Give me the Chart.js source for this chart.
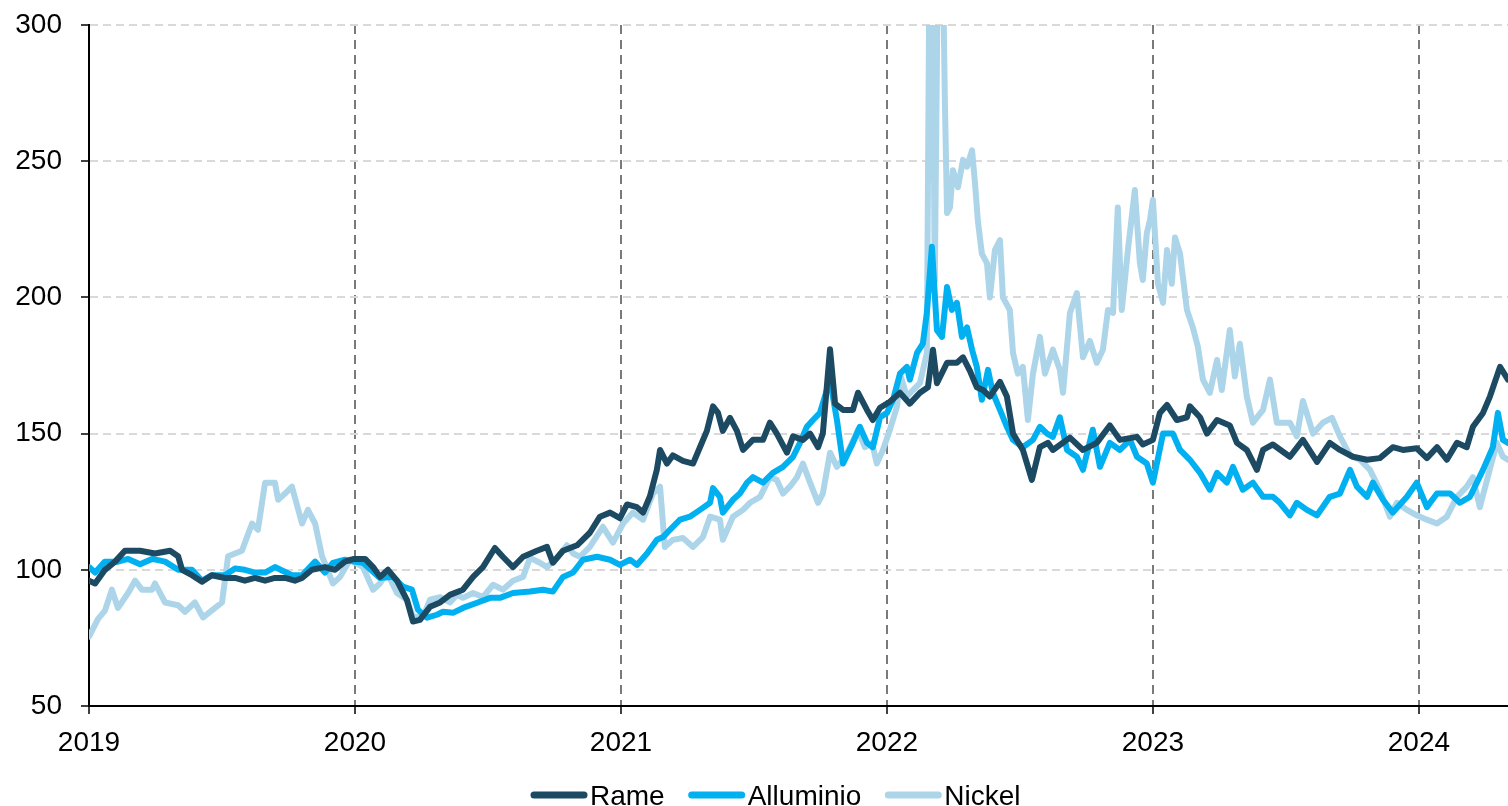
<!DOCTYPE html>
<html lang="it">
<head>
<meta charset="utf-8">
<title>Rame, Alluminio, Nickel</title>
<script src="https://cdn.jsdelivr.net/npm/chart.js@4.4.1/dist/chart.umd.min.js"></script>
<style>
  html, body { margin: 0; padding: 0; background: #fff; }
  #wrap { width: 1508px; height: 806px; }
</style>
</head>
<body>
<div id="wrap"><canvas id="metals" width="1508" height="806"></canvas></div>
<script>
// dates as fractional years, values are index levels
const yearTicks = [2019, 2020, 2021, 2022, 2023, 2024];

const rameT = [
  2019.000, 2019.023, 2019.060, 2019.098, 2019.135, 2019.192, 2019.248, 2019.305, 2019.335, 2019.350, 2019.387, 2019.425, 2019.462, 2019.511,
  2019.549, 2019.586, 2019.624, 2019.662, 2019.699, 2019.737, 2019.774, 2019.801, 2019.838, 2019.887, 2019.925, 2019.962, 2019.996,
  2020.038, 2020.068, 2020.094, 2020.124, 2020.158, 2020.195, 2020.218, 2020.244, 2020.282, 2020.320, 2020.357, 2020.406, 2020.444, 2020.481,
  2020.526, 2020.556, 2020.594, 2020.632, 2020.684, 2020.722, 2020.744, 2020.782, 2020.835, 2020.883, 2020.921, 2020.959, 2020.996,
  2021.023, 2021.060, 2021.083, 2021.109, 2021.135, 2021.147, 2021.173, 2021.195, 2021.233, 2021.271, 2021.297, 2021.323, 2021.346, 2021.365,
  2021.383, 2021.410, 2021.436, 2021.459, 2021.496, 2021.534, 2021.560, 2021.586, 2021.624, 2021.647, 2021.684, 2021.711, 2021.741, 2021.759,
  2021.786, 2021.805, 2021.835, 2021.872, 2021.891, 2021.925, 2021.947, 2021.974,
  2022.011, 2022.049, 2022.086, 2022.124, 2022.154, 2022.173, 2022.188, 2022.226, 2022.263, 2022.286, 2022.312, 2022.338, 2022.361, 2022.387,
  2022.425, 2022.451, 2022.474, 2022.511, 2022.545, 2022.575, 2022.605, 2022.624, 2022.688, 2022.737, 2022.789, 2022.838, 2022.876, 2022.940, 2022.962,
  2023.000, 2023.026, 2023.053, 2023.090, 2023.128, 2023.139, 2023.177, 2023.203, 2023.241, 2023.289, 2023.316, 2023.353, 2023.391, 2023.414,
  2023.451, 2023.515, 2023.564, 2023.617, 2023.665, 2023.703, 2023.752, 2023.805, 2023.853, 2023.902, 2023.940, 2023.992,
  2024.030, 2024.068, 2024.105, 2024.143, 2024.180, 2024.203, 2024.241, 2024.267, 2024.305, 2024.335
];
const rameV = [
  96, 95, 100, 103, 107, 107, 106, 107, 105, 100, 98, 95.6, 98, 97, 97, 96, 97, 96, 97, 97, 96, 97, 100, 101, 100, 103, 104,
  104, 101, 97.4, 100, 96, 89, 81, 81.6, 86.4, 88, 90.8, 92.7, 97.4, 101, 108, 104.8, 101, 104.8, 107, 108.4, 102.6, 107, 109, 113.6, 119.5, 121, 119,
  124, 123, 121, 127, 136.7, 144, 139, 142, 140, 139, 145, 151, 160, 157.6, 151, 155.8, 151, 144, 147.7, 147.7, 154, 150, 143, 149, 147.7, 150,
  145, 150, 181, 161, 158.7, 158.7, 165, 158.7, 155, 159.5,
  161.7, 165, 161, 165, 167, 180.8, 168.5, 176, 176, 178, 173, 167, 166, 163.6, 169, 163.6, 150, 144, 133, 145, 146.6, 144, 148.5, 144, 146.6,
  153, 147.7, 148.8, 146,
  147.7, 157.6, 160.5, 155, 156, 160, 156, 150, 155, 153, 146.6, 144, 136.7, 144, 146, 141.5, 147.7, 139.6, 146.6, 144, 141.5, 140.4, 141, 145, 144, 144.6,
  141, 145, 140.4, 146.6, 145, 152.5, 157.6, 163.6, 174.5, 169.8
];

const alluT = [
  2019.000, 2019.023, 2019.060, 2019.109, 2019.147, 2019.192, 2019.237, 2019.286, 2019.335, 2019.387, 2019.425, 2019.462, 2019.511, 2019.549,
  2019.586, 2019.624, 2019.662, 2019.699, 2019.763, 2019.801, 2019.850, 2019.887, 2019.917, 2019.962, 2019.996,
  2020.030, 2020.094, 2020.143, 2020.180, 2020.214, 2020.237, 2020.271, 2020.308, 2020.331, 2020.368, 2020.406, 2020.459, 2020.508, 2020.545,
  2020.594, 2020.658, 2020.707, 2020.744, 2020.782, 2020.820, 2020.857, 2020.910, 2020.959, 2020.996,
  2021.034, 2021.060, 2021.098, 2021.135, 2021.158, 2021.184, 2021.222, 2021.259, 2021.297, 2021.335, 2021.346, 2021.372, 2021.383, 2021.421,
  2021.447, 2021.474, 2021.496, 2021.534, 2021.571, 2021.609, 2021.647, 2021.673, 2021.699, 2021.722, 2021.748, 2021.786, 2021.812, 2021.835,
  2021.872, 2021.898, 2021.925, 2021.947, 2021.974,
  2022.000, 2022.023, 2022.049, 2022.075, 2022.086, 2022.113, 2022.135, 2022.150, 2022.169, 2022.188, 2022.207, 2022.226, 2022.244, 2022.263,
  2022.282, 2022.301, 2022.320, 2022.338, 2022.357, 2022.380, 2022.398, 2022.425, 2022.451, 2022.474, 2022.511, 2022.549, 2022.575, 2022.602,
  2022.624, 2022.650, 2022.677, 2022.714, 2022.737, 2022.774, 2022.801, 2022.838, 2022.876, 2022.914, 2022.940, 2022.977,
  2023.000, 2023.038, 2023.075, 2023.102, 2023.139, 2023.177, 2023.214, 2023.241, 2023.278, 2023.301, 2023.338, 2023.376, 2023.414, 2023.451,
  2023.477, 2023.515, 2023.541, 2023.579, 2023.617, 2023.665, 2023.703, 2023.741, 2023.767, 2023.805, 2023.827, 2023.865, 2023.902, 2023.955, 2023.992,
  2024.030, 2024.068, 2024.117, 2024.154, 2024.192, 2024.241, 2024.278, 2024.297, 2024.316, 2024.335
];
const alluV = [
  101, 99, 103, 103, 104, 102, 104, 103, 100, 100, 96, 98, 98, 100.5, 100, 99, 99, 101, 98, 98, 103, 99, 102.5, 103.7, 103,
  102.6, 97, 97.4, 93.8, 92.7, 85.3, 82.4, 83.5, 84.6, 84.2, 86, 87.9, 89.7, 89.7, 91.5, 92, 92.7, 92, 97.4, 99, 103.7, 104.8, 103.7, 101.8,
  103.7, 101.8, 106, 111, 112, 114.7, 118.4, 119.5, 122, 124.6, 130, 126.8, 121, 125.7, 128, 132, 134, 132, 135.6, 137.8, 141.5, 146.6, 152.5,
  155, 157.6, 169.8, 155, 139, 146.6, 152.5, 146.6, 145, 156,
  157.6, 162.4, 172, 174.5, 169.8, 179.6, 183, 194.3, 218.6, 188, 185.5, 203.8, 195.4, 198, 185.5, 189, 180.8, 174.5, 162.4, 173.4, 165, 158.7,
  152.5, 147.7, 145, 147.7, 152.5, 150, 148.8, 156, 144, 141.5, 136.7, 151.4, 137.8, 146.6, 144, 147.7, 141.5, 139,
  132, 150, 150, 144, 140.4, 135.6, 129.4, 135.6, 132, 137.8, 129.4, 132, 126.8, 126.8, 124.6, 120, 124.6, 122, 120, 126.8, 128, 136.7, 130.5,
  126.8, 132, 125.7, 121, 126.8, 132,
  123, 128, 128, 124.6, 126.8, 136.7, 145, 157.6, 147.7, 146.6
];

const nickelT = [
  2019.000, 2019.034, 2019.060, 2019.086, 2019.109, 2019.147, 2019.173, 2019.199, 2019.237, 2019.248, 2019.286, 2019.335, 2019.361, 2019.398,
  2019.429, 2019.474, 2019.500, 2019.523, 2019.575, 2019.613, 2019.635, 2019.662, 2019.699, 2019.711, 2019.737, 2019.763, 2019.801, 2019.823,
  2019.850, 2019.876, 2019.917, 2019.944, 2019.981,
  2020.030, 2020.068, 2020.094, 2020.120, 2020.158, 2020.195, 2020.218, 2020.256, 2020.282, 2020.320, 2020.357, 2020.383, 2020.406, 2020.444,
  2020.481, 2020.519, 2020.556, 2020.594, 2020.632, 2020.658, 2020.695, 2020.722, 2020.759, 2020.797, 2020.820, 2020.846, 2020.883, 2020.932, 2020.970,
  2021.008, 2021.045, 2021.083, 2021.120, 2021.147, 2021.165, 2021.195, 2021.233, 2021.271, 2021.308, 2021.335, 2021.372, 2021.383, 2021.421,
  2021.459, 2021.485, 2021.523, 2021.560, 2021.586, 2021.609, 2021.635, 2021.662, 2021.684, 2021.711, 2021.741, 2021.759, 2021.786, 2021.812,
  2021.835, 2021.861, 2021.891, 2021.917, 2021.944, 2021.962, 2021.985,
  2022.011, 2022.038, 2022.049, 2022.075, 2022.098, 2022.124, 2022.150, 2022.165, 2022.180, 2022.199, 2022.218, 2022.226, 2022.237, 2022.248,
  2022.267, 2022.286, 2022.301, 2022.320, 2022.331, 2022.342, 2022.357, 2022.376, 2022.387, 2022.406, 2022.425, 2022.436, 2022.462, 2022.474,
  2022.492, 2022.511, 2022.530, 2022.549, 2022.575, 2022.594, 2022.624, 2022.650, 2022.662, 2022.688, 2022.714, 2022.737, 2022.763, 2022.789,
  2022.812, 2022.831, 2022.850, 2022.868, 2022.883, 2022.906, 2022.932, 2022.951, 2022.962, 2022.977, 2022.989,
  2023.000, 2023.019, 2023.038, 2023.053, 2023.071, 2023.083, 2023.102, 2023.128, 2023.150, 2023.169, 2023.188, 2023.214, 2023.241, 2023.259,
  2023.289, 2023.308, 2023.327, 2023.353, 2023.376, 2023.414, 2023.440, 2023.466, 2023.515, 2023.541, 2023.564, 2023.602, 2023.639, 2023.673,
  2023.703, 2023.741, 2023.778, 2023.816, 2023.853, 2023.891, 2023.917, 2023.955, 2023.992,
  2024.030, 2024.068, 2024.105, 2024.143, 2024.180, 2024.203, 2024.229, 2024.256, 2024.293, 2024.316, 2024.335
];
const nickelV = [
  75.5, 82, 85, 92.7, 86, 91.5, 96, 92.7, 92.7, 95, 88, 87, 84.6, 88, 82.5, 86, 88, 105, 107, 117, 114.7, 132, 132, 125.7, 128, 130.5, 117, 122,
  117, 105, 95, 97.4, 103.7,
  101, 92.7, 95, 99, 91.5, 89, 82.8, 82.8, 89, 90, 88, 90.8, 89.7, 91.5, 90, 94.5, 92.7, 96, 97.4, 104.4, 102.6, 101, 104.4, 109, 106, 104.8,
  108.4, 115.8, 110,
  117, 121, 118.4, 128, 130.5, 108.4, 111, 111.7, 108.4, 112, 119.5, 118.4, 111, 119.5, 122, 124.6, 126.8, 134, 133, 128, 130.5, 134, 139, 132,
  124.6, 128, 143, 137.8, 140.4, 145, 151.4, 145, 146.6, 139, 144,
  151.4, 160, 172, 163.6, 166, 168.5, 179.6, 400, 206, 400, 271, 231, 233, 246.7, 240.5, 250.5, 248, 254, 242, 228, 216, 212.6, 200, 217.4,
  221, 200, 195.4, 179.6, 172, 174.5, 155, 172, 185.5, 172, 180.8, 173.4, 165, 194.3, 201.6, 178, 184, 176, 180.8, 195.4, 194.3, 233, 195.4,
  217.4, 239.4, 212.6, 206.4, 223.6, 228.4,
  235.8, 205, 198, 217.4, 205, 222, 216, 195.4, 189, 181.9, 169.8, 165, 177, 166, 188, 171, 183, 163.6, 154, 158.7, 169.8, 154, 154, 149, 162,
  150, 154, 155.8, 149, 142, 140.4, 136.7, 129.4, 119.5, 124.6, 122, 120,
  118.4, 117, 119.5, 126.8, 130.5, 134, 123, 133, 146.6, 141.5, 140.4
];

const FONT = '"Liberation Sans", Arial, sans-serif';
const toPoints = (t, v) => t.map((x, i) => ({ x, y: v[i] }));

// legend drawn by hand: thick rounded swatch right next to the label
const bottomLegend = {
  id: 'bottomLegend',
  afterDraw(chart) {
    const ctx = chart.ctx;
    ctx.save();
    ctx.font = `28px ${FONT}`;
    ctx.textBaseline = 'alphabetic';
    let x = 530;
    const y = 795;
    chart.data.datasets.forEach((ds) => {
      ctx.strokeStyle = ds.borderColor;
      ctx.lineWidth = 7;
      ctx.lineCap = 'round';
      ctx.beginPath();
      ctx.moveTo(x + 4, y);
      ctx.lineTo(x + 54, y);
      ctx.stroke();
      ctx.fillStyle = '#000';
      ctx.fillText(ds.label, x + 60, 805);
      x += 60 + ctx.measureText(ds.label).width + 23;
    });
    ctx.restore();
  },
};

const line = (label, color, t, v) => ({
  label,
  data: toPoints(t, v),
  borderColor: color,
  backgroundColor: color,
  borderWidth: 6,
  pointRadius: 0,
  tension: 0,
  borderJoinStyle: 'round',
  borderCapStyle: 'round',
});

new Chart(document.getElementById('metals'), {
  type: 'line',
  data: {
    datasets: [
      line('Rame', '#1d4a63', rameT, rameV),
      line('Alluminio', '#00b0f0', alluT, alluV),
      line('Nickel', '#acd5ea', nickelT, nickelV),
    ],
  },
  options: {
    responsive: false,
    animation: false,
    devicePixelRatio: 1,
    events: [],
    layout: { padding: { left: 15, top: 25, right: 0, bottom: 55 } },
    plugins: { legend: { display: false }, tooltip: { enabled: false } },
    scales: {
      x: {
        type: 'linear',
        min: 2019,
        max: 2024.335,
        afterBuildTicks: (s) => { s.ticks = yearTicks.map((v) => ({ value: v })); },
        afterFit: (s) => { s.height = 45; },
        ticks: { font: { size: 28, family: FONT }, color: '#000', padding: 12, maxRotation: 0, autoSkip: false, callback: (v) => String(v) },
        grid: {
          color: (c) => (c.tick && c.tick.value === 2019 ? 'rgba(0,0,0,0)' : '#7a7a7a'),
          lineWidth: 2,
          tickLength: 8,
          tickColor: '#000',
          tickWidth: 1.5,
        },
        border: { color: '#000', width: 2, dash: [9, 6] },
      },
      y: {
        min: 50,
        max: 300,
        afterFit: (s) => {
          s.width = 74;
          s.paddingTop = 10;
          s.paddingBottom = 10;
        },
        ticks: { stepSize: 50, font: { size: 28, family: FONT }, color: '#000', padding: 19 },
        grid: {
          color: (c) => (c.tick && c.tick.value === 50 ? 'rgba(0,0,0,0)' : '#d9d9d9'),
          lineWidth: 2,
          tickLength: 8,
          tickColor: '#000',
          tickWidth: 1.5,
        },
        border: { color: '#000', width: 2, dash: [8, 5] },
      },
    },
  },
  plugins: [bottomLegend],
});
</script>
</body>
</html>
